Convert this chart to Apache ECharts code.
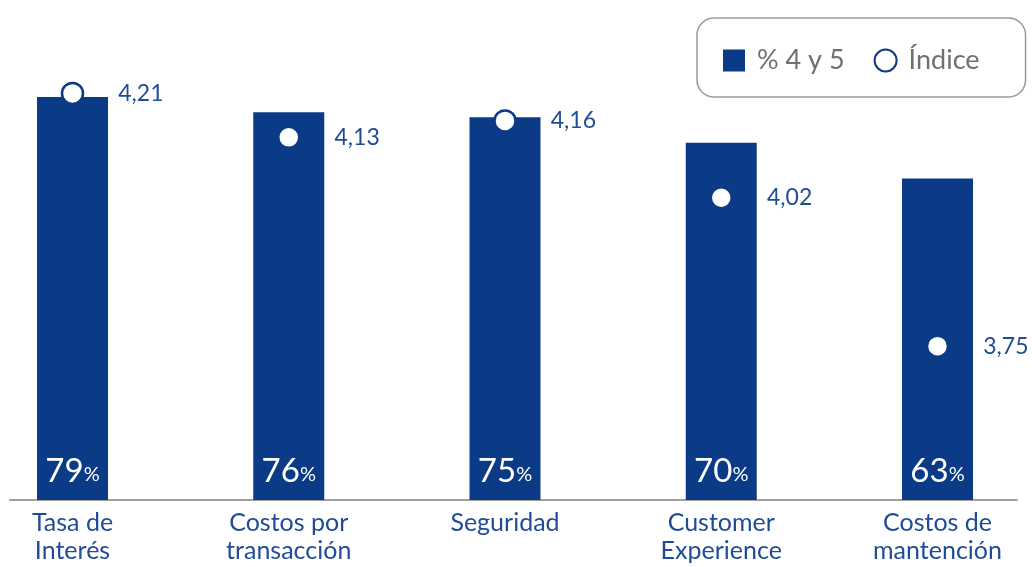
<!DOCTYPE html>
<html>
<head>
<meta charset="utf-8">
<script src="https://cdn.jsdelivr.net/npm/echarts@6/dist/echarts.min.js"></script>
<style>html,body{margin:0;padding:0;background:#fff;}#c{width:1032px;height:567px;}</style>
</head>
<body>
<div id="c"></div>
<script>
const categories = ['Tasa de\nInterés', 'Costos por\ntransacción', 'Seguridad', 'Customer\nExperience', 'Costos de\nmantención'];
const pct45 = [79, 76, 75, 70, 63];
const indice = [4.21, 4.13, 4.16, 4.02, 3.75];
const seriesNames = ['% 4 y 5', 'Índice'];

const BLUE = '#0b3a87';
const TXT = '#1f4b98';
const FONT = 'Lato, "Open Sans", sans-serif';

const chart = echarts.init(document.getElementById('c'));
chart.setOption({
  animation: false,
  textStyle: { fontFamily: FONT },
  legend: {
    left: 697, top: 18,
    padding: [29, 46, 23, 26],
    borderColor: '#9a9a9a', borderWidth: 1.5, borderRadius: 17,
    itemWidth: 22, itemHeight: 22, itemGap: 29,
    textStyle: { color: '#707070', fontSize: 27, fontFamily: FONT, padding: [0, 0, 0, 7] },
    data: [{ name: seriesNames[0], icon: 'rect' }, { name: seriesNames[1], icon: 'circle' }]
  },
  grid: [
    { left: 72.5, right: 94.5, top: 0, bottom: 67 },
    { left: 10, right: 15, top: 0, bottom: 67 }
  ],
  xAxis: [
    {
      type: 'category', data: categories, gridIndex: 0, boundaryGap: false,
      axisLine: { show: false }, axisTick: { show: false },
      axisLabel: { color: TXT, fontSize: 25, lineHeight: 28, margin: 9, fontFamily: FONT, interval: 0 }
    },
    {
      type: 'value', gridIndex: 1, min: 0, max: 1,
      axisLine: { show: true, onZero: false, lineStyle: { color: '#a0a0a0', width: 2 } },
      axisTick: { show: false }, axisLabel: { show: false }, splitLine: { show: false }
    }
  ],
  yAxis: [
    { type: 'value', gridIndex: 0, min: 0, max: 98, show: false },
    { type: 'value', gridIndex: 0, min: 3.47, max: 4.38, show: false },
    { type: 'value', gridIndex: 1, min: 0, max: 1, show: false }
  ],
  series: [
    {
      name: seriesNames[0], type: 'bar', xAxisIndex: 0, yAxisIndex: 0,
      data: pct45, barWidth: 71,
      itemStyle: { color: BLUE },
      label: {
        show: true, position: 'insideBottom', distance: 12,
        formatter: p => '{a|' + p.value + '}{b|%}',
        rich: {
          a: { color: '#fff', fontSize: 33, fontFamily: FONT },
          b: { color: '#fff', fontSize: 20, fontFamily: FONT, padding: [7, 0, 0, 0] }
        }
      },
      z: 2
    },
    {
      name: seriesNames[1], type: 'scatter', xAxisIndex: 0, yAxisIndex: 1,
      data: indice, symbol: 'circle', symbolSize: 21,
      itemStyle: { color: '#fff', borderColor: BLUE, borderWidth: 2.5, opacity: 1 },
      label: {
        show: true, position: 'right', distance: 34,
        formatter: p => String(p.value).replace('.', ','),
        color: TXT, fontSize: 23, fontFamily: FONT
      },
      z: 3
    }
  ]
});
</script>
</body>
</html>
